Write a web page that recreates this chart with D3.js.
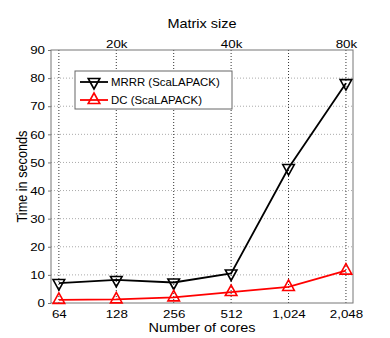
<!DOCTYPE html>
<html lang="en">
<head>
<meta charset="UTF-8">
<title>Time vs cores</title>
<script src="https://d3js.org/d3.v7.min.js"></script>
<style>
    body { margin: 0; background: #fff; }
    svg text { font-family: "Liberation Sans", Arial, sans-serif; fill: #000; }
    .grid line { stroke-dasharray: 1,2; }
</style>
</head>
<body>
<svg></svg>
<script>
    // data
    var cores = [64, 128, 256, 512, 1024, 2048];
    var coreLabels = ["64", "128", "256", "512", "1,024", "2,048"];
    var mrrr = [7.1, 8.2, 7.3, 10.5, 48, 78.2];
    var dc = [1.1, 1.3, 2.0, 3.9, 5.7, 11.5];
    var sizeTicks = [128, 512, 2048];
    var sizeLabels = ["20k", "40k", "80k"];
    var yTicks = [0, 10, 20, 30, 40, 50, 60, 70, 80, 90];

    var W = 390, H = 338;
    var m = {left: 51, right: 37, top: 50, bottom: 35};
    var w = W - m.left - m.right, h = H - m.top - m.bottom;
    var sx = 1.14; // text in the picture is a bit wide

    var svg = d3.select("svg").attr("width", W).attr("height", H);
    var g = svg.append("g").attr("transform", "translate(" + m.left + "," + m.top + ")");

    var x = d3.scaleLog().base(2).domain([58.2, 2230]).range([0, w]);
    var y = d3.scaleLinear().domain([0, 90]).range([h, 0]);

    // grid
    g.append("g").attr("class", "grid")
        .selectAll("line.h").data(yTicks.slice(1, -1)).enter().append("line")
        .attr("x1", 0).attr("x2", w)
        .attr("y1", d => y(d)).attr("y2", d => y(d))
        .attr("stroke", "#aaa");
    g.append("g").attr("class", "grid")
        .selectAll("line.v").data(cores).enter().append("line")
        .attr("x1", d => x(d)).attr("x2", d => x(d))
        .attr("y1", 0).attr("y2", h)
        .attr("stroke", "#333");

    // axes
    var yAxis = d3.axisLeft(y).tickValues(yTicks).tickSize(3);
    var xAxis = d3.axisBottom(x).tickValues(cores).tickFormat((d, i) => coreLabels[i]).tickSize(0).tickPadding(7);
    var topAxis = d3.axisTop(x).tickValues(sizeTicks).tickFormat((d, i) => sizeLabels[i]).tickSize(0).tickPadding(2.5);

    function style(sel) {
        sel.selectAll("path").remove();
        sel.selectAll("line").attr("stroke", "#777");
        sel.selectAll("text").style("font-size", "11.7px").style("fill", "#000")
            .attr("transform", "scale(" + sx + ",1)");
    }
    g.append("g").call(yAxis).call(style).selectAll("text").attr("x", -6 / sx);
    g.append("g").attr("transform", "translate(0," + h + ")").call(xAxis).call(style);
    g.append("g").call(topAxis).call(style);

    g.append("rect").attr("width", w).attr("height", h)
        .attr("fill", "none").attr("stroke", "#777").attr("stroke-width", 1);

    // series
    var series = [
        {name: "MRRR (ScaLAPACK)", values: mrrr, color: "#000", down: true},
        {name: "DC (ScaLAPACK)", values: dc, color: "#f00", down: false}
    ];
    var line = d3.line().x((d, i) => x(cores[i])).y(d => y(d));

    function tri(down) {
        var s = 5.8, b = 3.5, a = 7;
        return down ? "M" + (-s) + "," + (-b) + "L" + s + "," + (-b) + "L0," + a + "Z"
                    : "M" + (-s) + "," + b + "L" + s + "," + b + "L0," + (-a) + "Z";
    }

    series.forEach(function (s) {
        g.append("path").datum(s.values).attr("d", line)
            .attr("fill", "none").attr("stroke", s.color).attr("stroke-width", 1.8);
        g.selectAll(null).data(s.values).enter().append("path")
            .attr("d", tri(s.down))
            .attr("transform", (d, i) => "translate(" + x(cores[i]) + "," + y(d) + ")")
            .attr("fill", "none").attr("stroke", s.color).attr("stroke-width", 1.6);
    });

    // legend
    var lg = svg.append("g").attr("transform", "translate(75,71)");
    lg.append("rect").attr("width", 157).attr("height", 38)
        .attr("fill", "#fff").attr("stroke", "#666");
    series.forEach(function (s, i) {
        var ly = 11 + i * 18;
        lg.append("line").attr("x1", 5).attr("x2", 33).attr("y1", ly).attr("y2", ly)
            .attr("stroke", s.color).attr("stroke-width", 1.8);
        lg.append("path").attr("d", tri(s.down)).attr("transform", "translate(19," + ly + ")")
            .attr("fill", "none").attr("stroke", s.color).attr("stroke-width", 1.6);
        lg.append("text").attr("transform", "translate(36," + (ly + 4) + ") scale(" + sx + ",1)")
            .style("font-size", "10px").style("fill", "#000").text(s.name);
    });

    // titles
    function title(sel) { return sel.attr("text-anchor", "middle").style("font-size", "12.7px").style("fill", "#000"); }
    svg.append("text").attr("transform", "translate(" + (m.left + w / 2) + ",27.5) scale(" + sx + ",1)")
        .call(title).text("Matrix size");
    svg.append("text").attr("transform", "translate(" + (m.left + w / 2) + ",332) scale(" + sx + ",1)")
        .call(title).text("Number of cores");
    svg.append("text").attr("transform", "translate(26.5," + (m.top + h / 2) + ") scale(" + sx + ",1) rotate(-90)")
        .call(title).text("Time in seconds");
</script>
</body>
</html>
